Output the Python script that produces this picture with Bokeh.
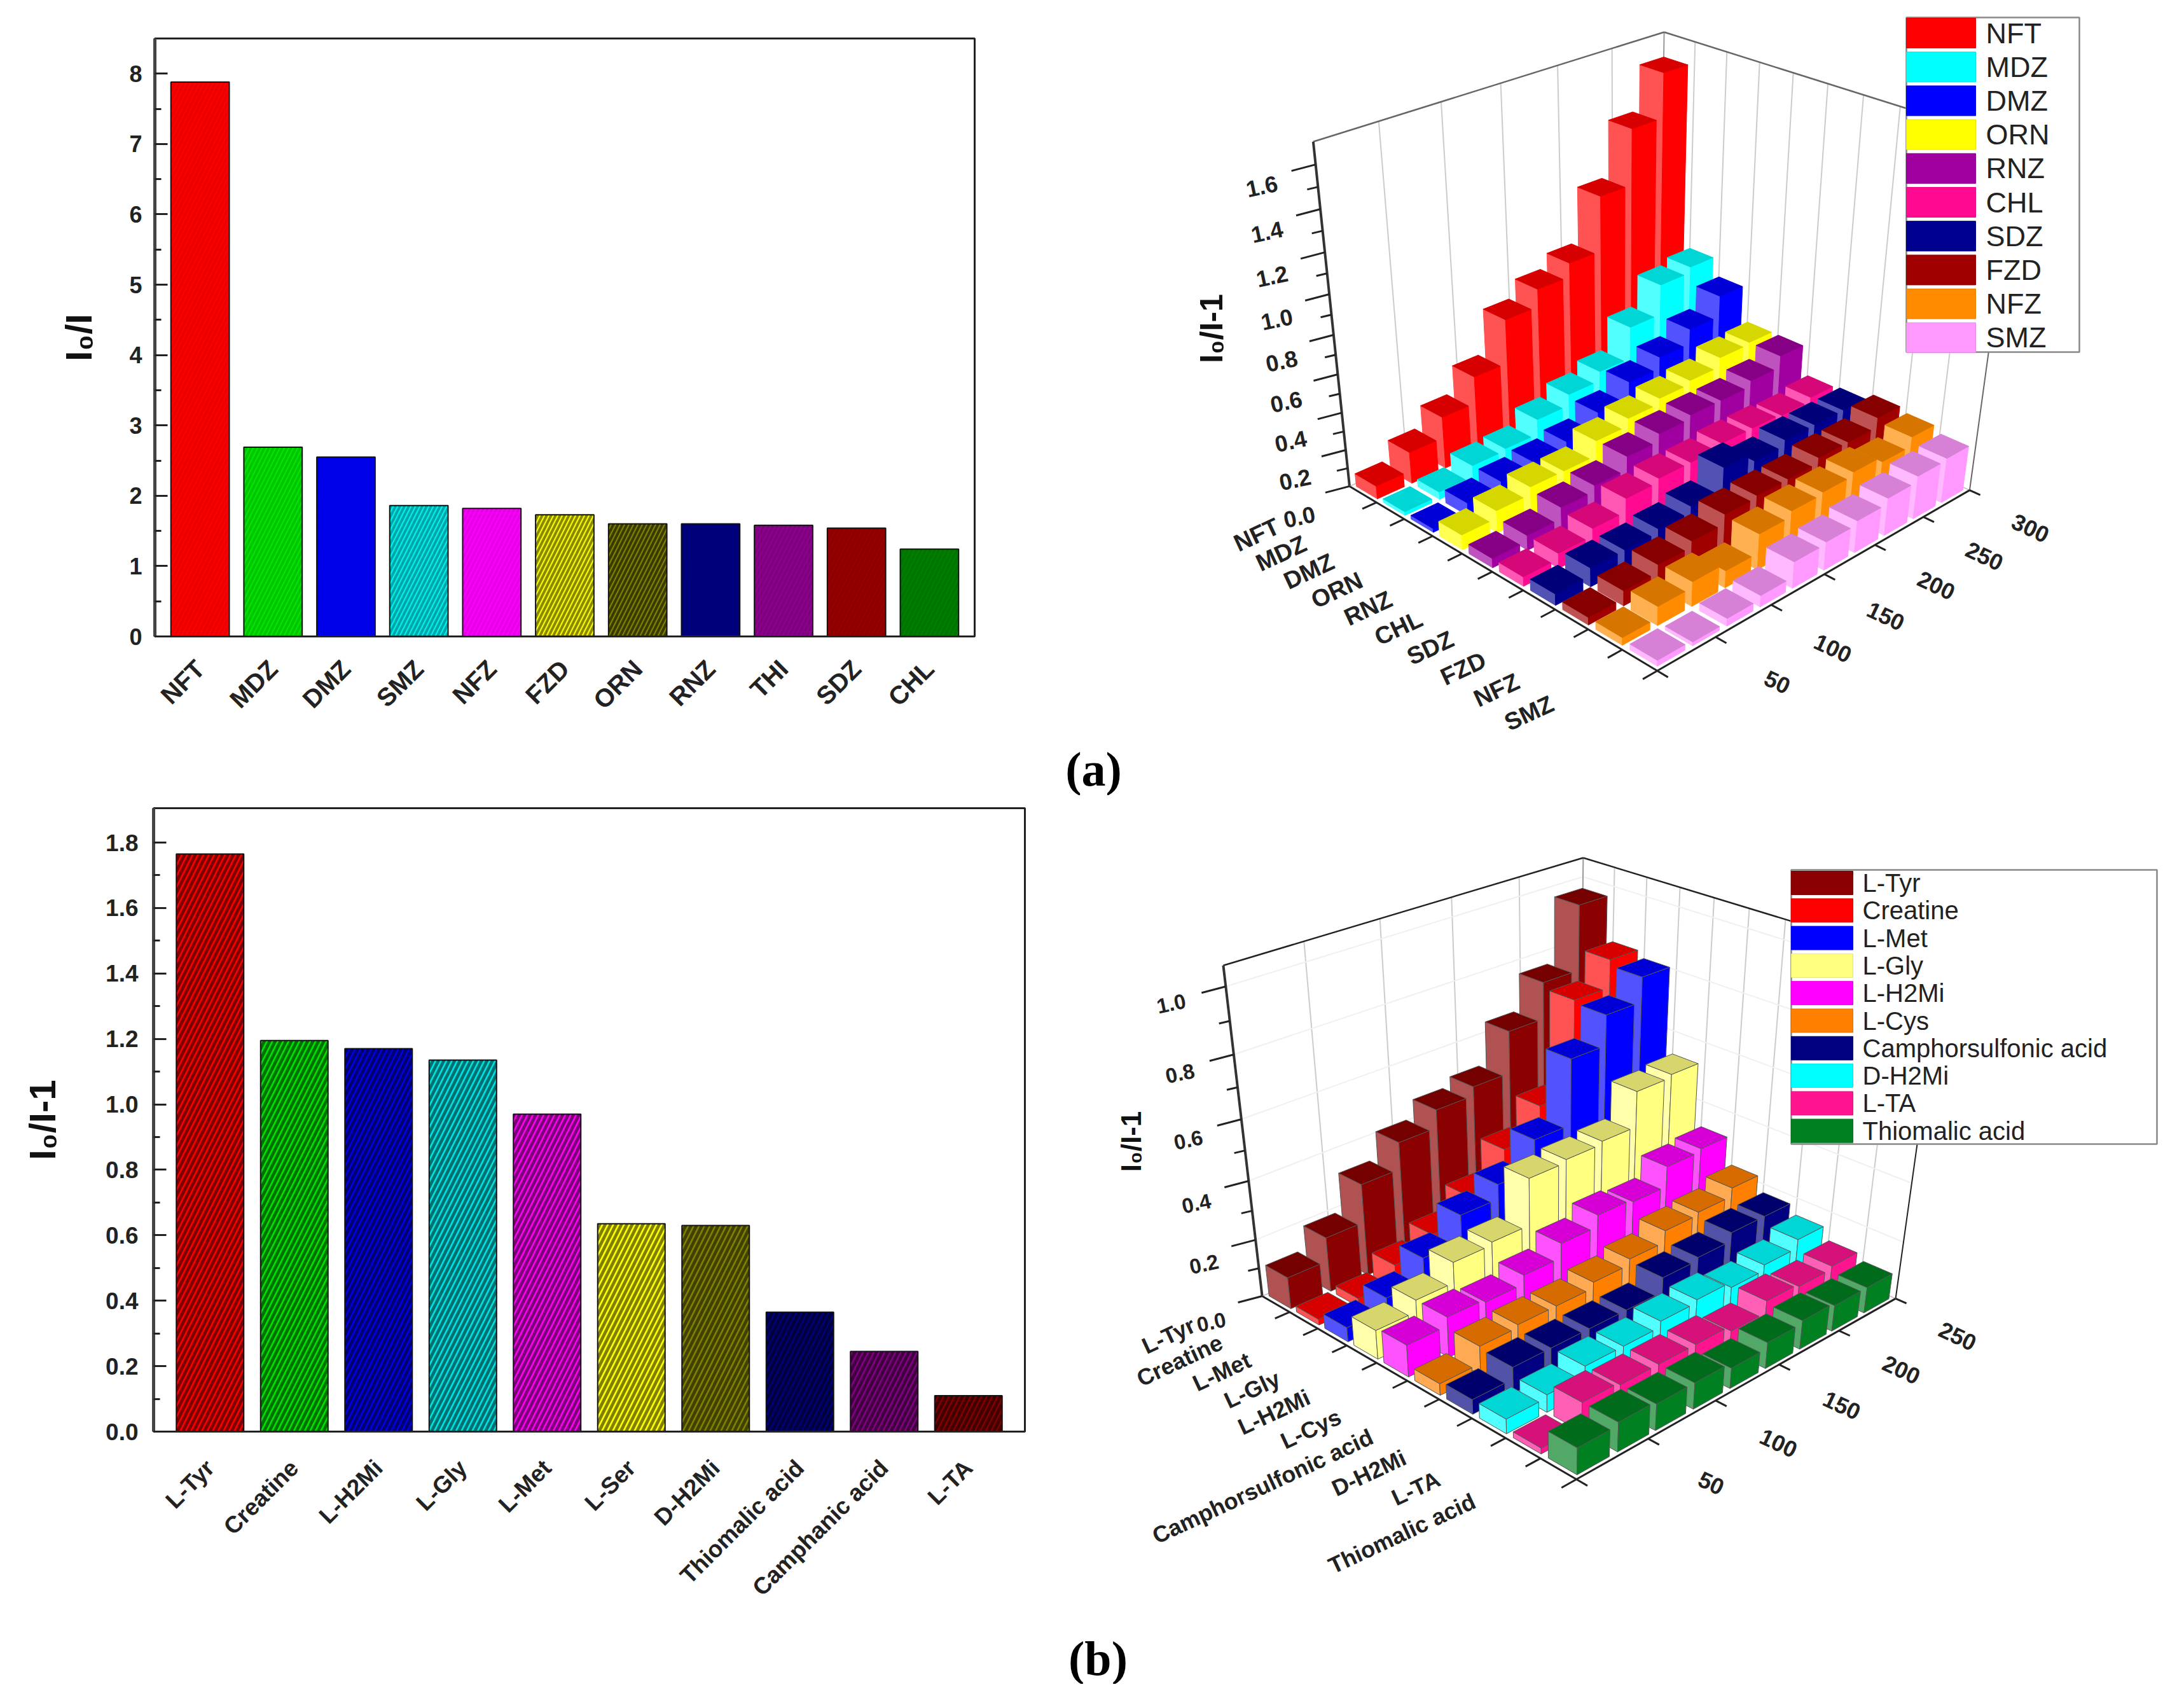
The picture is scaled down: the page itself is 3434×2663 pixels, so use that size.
import math
import numpy as np
from bokeh.plotting import figure
from bokeh.layouts import column, row
from bokeh.models import (ColumnDataSource, FactorRange, Range1d, FixedTicker, NumeralTickFormatter)
from bokeh.core.properties import value
from bokeh.embed import file_html
from bokeh.resources import INLINE

# ---- 2D bar data
cats_a = ["NFT", "MDZ", "DMZ", "SMZ", "NFZ", "FZD", "ORN", "RNZ", "THI", "SDZ", "CHL"]
vals_a = [7.88, 2.69, 2.55, 1.86, 1.82, 1.73, 1.60, 1.60, 1.58, 1.54, 1.24]
cols_a = ["#ff0000", "#00e600", "#0000f0", "#00eeee", "#ff00ff", "#f8f800", "#808000", "#000080", "#900090", "#990000", "#008000"]
hatch_a = [0.08, 0.15, 0.05, 0.3, 0.1, 0.45, 0.55, 0.05, 0.12, 0.08, 0.08]

cats_c = ["L-Tyr", "Creatine", "L-H2Mi", "L-Gly", "L-Met", "L-Ser", "D-H2Mi", "Thiomalic acid", "Camphanic acid", "L-TA"]
vals_c = [1.765, 1.195, 1.17, 1.135, 0.97, 0.635, 0.63, 0.365, 0.245, 0.11]
cols_c = ["#f80000", "#00e000", "#0000e0", "#00e0e0", "#f800f0", "#ffff00", "#808000", "#000078", "#800080", "#800000"]

# ---- 3D data, panel (a)
series_b = ["NFT", "MDZ", "DMZ", "ORN", "RNZ", "CHL", "SDZ", "FZD", "NFZ", "SMZ"]
colors_b = ["#ff0000", "#00ffff", "#0000ff", "#ffff00", "#a000a0", "#ff0a90", "#000090", "#a00000", "#ff8c00", "#ff99ff"]
conc_b = [15, 45, 75, 105, 135, 165, 195, 225, 255, 285]
nft = [0.07, 0.17, 0.28, 0.42, 0.65, 0.74, 0.81, 1.09, 1.37, 1.59]
mdz = [0.02, 0.04, 0.10, 0.11, 0.19, 0.25, 0.30, 0.47, 0.63, 0.66]
dmz = [0.02, 0.07, 0.10, 0.12, 0.15, 0.23, 0.32, 0.38, 0.46, 0.57]
orn = [0.08, 0.12, 0.16, 0.16, 0.24, 0.28, 0.31, 0.33, 0.38, 0.39]
rnz = [0.05, 0.08, 0.14, 0.17, 0.24, 0.28, 0.30, 0.30, 0.33, 0.39]
chl = [0.05, 0.08, 0.12, 0.19, 0.21, 0.21, 0.23, 0.23, 0.22, 0.24]
sdz = [0.06, 0.10, 0.10, 0.12, 0.15, 0.27, 0.22, 0.25, 0.25, 0.25]
fzd = [0.04, 0.08, 0.12, 0.15, 0.20, 0.21, 0.21, 0.24, 0.24, 0.29]
nfz = [0.04, 0.10, 0.13, 0.09, 0.19, 0.22, 0.23, 0.25, 0.22, 0.27]
smz = [0.03, 0.02, 0.04, 0.06, 0.14, 0.15, 0.17, 0.20, 0.23, 0.24]
table_b = [nft, mdz, dmz, orn, rnz, chl, sdz, fzd, nfz, smz]
vticks_b = [50, 100, 150, 200, 250, 300]
zmajor_b = [0.0, 0.2, 0.4, 0.6, 0.8, 1.0, 1.2, 1.4, 1.6]
zminor_b = [0.1, 0.3, 0.5, 0.7, 0.9, 1.1, 1.3, 1.5]

# ---- 3D data, panel (b)
series_d = ["L-Tyr", "Creatine", "L-Met", "L-Gly", "L-H2Mi", "L-Cys", "Camphorsulfonic acid", "D-H2Mi", "L-TA", "Thiomalic acid"]
colors_d = ["#8b0000", "#ff0000", "#0000ff", "#ffff80", "#ff00ff", "#ff8000", "#000080", "#00ffff", "#ff1490", "#008020"]
conc_d = [14, 42, 69, 97, 125, 153, 181, 208, 236]
ltyr = [0.11, 0.19, 0.32, 0.41, 0.47, 0.50, 0.64, 0.76, 0.97]
crea = [0.02, 0.03, 0.09, 0.14, 0.22, 0.33, 0.43, 0.74, 0.83]
lmet = [0.05, 0.09, 0.17, 0.26, 0.31, 0.41, 0.63, 0.73, 0.81]
lgly = [0.10, 0.14, 0.21, 0.22, 0.38, 0.39, 0.40, 0.52, 0.53]
lh2m = [0.11, 0.14, 0.13, 0.16, 0.21, 0.25, 0.24, 0.31, 0.32]
lcys = [0.04, 0.10, 0.11, 0.11, 0.13, 0.15, 0.19, 0.20, 0.23]
camp = [0.05, 0.09, 0.09, 0.09, 0.09, 0.14, 0.15, 0.18, 0.18]
dh2m = [0.05, 0.06, 0.09, 0.09, 0.11, 0.12, 0.10, 0.12, 0.15]
lta = [0.02, 0.10, 0.09, 0.09, 0.09, 0.07, 0.11, 0.10, 0.11]
thio = [0.09, 0.10, 0.09, 0.09, 0.07, 0.09, 0.10, 0.09, 0.09]
table_d = [ltyr, crea, lmet, lgly, lh2m, lcys, camp, dh2m, lta, thio]
vticks_d = [50, 100, 150, 200, 250]
zmajor_d = [0.0, 0.2, 0.4, 0.6, 0.8, 1.0]
zminor_d = [0.1, 0.3, 0.5, 0.7, 0.9]

FONT = value("Liberation Sans")


def rgb(c):
    return tuple(int(c[i:i + 2], 16) for i in (1, 3, 5))


def tohex(t):
    return "#%02x%02x%02x" % tuple(int(max(0, min(255, round(x)))) for x in t)


def light(c, f):
    return tohex([x + (255 - x) * f for x in rgb(c)])


def dark(c, f):
    return tohex([x * f for x in rgb(c)])


def camera(points):
    rows, rhs = [], []
    for (X, Y, Z), (x, y) in points:
        rows.append([X, Y, Z, 1, 0, 0, 0, 0, -x * X, -x * Y, -x * Z])
        rhs.append(x)
        rows.append([0, 0, 0, 0, X, Y, Z, 1, -y * X, -y * Y, -y * Z])
        rhs.append(y)
    sol = np.linalg.lstsq(np.array(rows, float), np.array(rhs, float), rcond=None)[0]
    return np.append(sol, 1.0).reshape(3, 4)


def bar_chart(w, h, left, top, right, bottom, cats, vals, cols, hatch, ymax, majors, minors, ylabel,
              tick_size, cat_size, standoff, tick_standoff, cat_standoff, hscale, hweight, fmt, pad):
    src = ColumnDataSource(dict(x=cats, top=vals, color=cols, h=hatch))
    p = figure(width=w, height=h, output_backend="svg", toolbar_location=None, frame_align=False,
               x_range=FactorRange(factors=cats, range_padding=pad, range_padding_units="absolute"),
               y_range=Range1d(0, ymax),
               min_border_left=left, min_border_top=top, min_border_right=right, min_border_bottom=bottom)
    p.vbar(x="x", top="top", bottom=0, width=0.8, source=src, fill_color="color", line_color="#111111", line_width=2,
           hatch_pattern="right_diagonal_line", hatch_color="black", hatch_alpha="h",
           hatch_scale=hscale, hatch_weight=hweight)
    p.grid.visible = False
    p.outline_line_color = "#222222"
    p.outline_line_width = 3
    ya = p.yaxis[0]
    ya.ticker = FixedTicker(ticks=majors, minor_ticks=minors)
    ya.formatter = NumeralTickFormatter(format=fmt)
    ya.major_tick_in = 20
    ya.major_tick_out = 0
    ya.minor_tick_in = 10
    ya.minor_tick_out = 0
    ya.major_tick_line_width = 3
    ya.minor_tick_line_width = 3
    ya.major_tick_line_color = "#222222"
    ya.minor_tick_line_color = "#222222"
    ya.axis_line_width = 5
    ya.axis_line_color = "#444444"
    ya.major_label_text_font = "Liberation Sans"
    ya.major_label_text_font_style = "bold"
    ya.major_label_text_font_size = tick_size
    ya.major_label_text_color = "#222222"
    ya.major_label_standoff = tick_standoff
    ya.axis_label = ylabel
    ya.axis_label_text_font = "Liberation Sans"
    ya.axis_label_text_font_style = "bold"
    ya.axis_label_text_font_size = "58px"
    ya.axis_label_text_color = "#111111"
    ya.axis_label_standoff = standoff
    xa = p.xaxis[0]
    xa.major_tick_line_color = None
    xa.minor_tick_line_color = None
    xa.axis_line_width = 3
    xa.axis_line_color = "#222222"
    xa.major_label_orientation = math.radians(45)
    xa.major_label_text_font = "Liberation Sans"
    xa.major_label_text_font_style = "bold"
    xa.major_label_text_font_size = cat_size
    xa.major_label_text_color = "#222222"
    xa.major_label_standoff = cat_standoff
    return p


def label(p, xs, ys, texts, size, angle=0.0, align="center", baseline="middle", style="bold", font=FONT, color="#222222"):
    p.text(x=list(xs), y=list(ys), text=list(texts), text_font=font, text_font_size=size, text_font_style=style,
           text_color=color, angle=angle, text_align=align, text_baseline=baseline)


def chart3d(y0, y1, corners, names, colors, table, conc, vmax, zmax, vticks, zmajor, zminor, width, edge, wallc,
            edgec, zsize, catsize, vsize, zoff, catoff, catk, title, titlepos, titlesize, leg, faint):
    p = figure(width=3426 - 1670, height=y1 - y0, frame_align=False,
               output_backend="svg", toolbar_location=None,
               x_range=Range1d(1670, 3426), y_range=Range1d(y1, y0),
               min_border=0, min_border_left=0, min_border_right=0, min_border_top=0, min_border_bottom=0)
    p.axis.visible = False
    p.outline_line_color = None
    p.grid.visible = False
    P = camera(corners)

    def pr(u, v, z):
        q = P @ np.array([u, v, z / zmax, 1.0])
        return q[0] / q[2], q[1] / q[2]

    n = len(names)
    ub = [i / n for i in range(n + 1)]

    def seg(a, b, color, lw):
        p.line([a[0], b[0]], [a[1], b[1]], line_color=color, line_width=lw)

    # walls
    for vt in vticks[:-1]:
        seg(pr(0, vt / vmax, 0), pr(0, vt / vmax, zmax), wallc, 2)
    for u in ub[1:-1]:
        seg(pr(u, 1, 0), pr(u, 1, zmax), wallc, 2)
    if faint:
        for z in zmajor[1:]:
            seg(pr(0, 0, z), pr(0, 1, z), "#f0f0f0", 2)
            seg(pr(0, 1, z), pr(1, 1, z), "#f0f0f0", 2)
    seg(pr(0, 1, 0), pr(0, 1, zmax), "#999999", 2)
    seg(pr(0, 0, zmax), pr(0, 1, zmax), edgec, 2.5)
    seg(pr(0, 1, zmax), pr(1, 1, zmax), edgec, 2.5)
    seg(pr(1, 1, 0), pr(1, 1, zmax), edgec, 2)
    seg(pr(0, 0, 0), pr(0, 0, zmax), "#333333", 4)
    seg(pr(0, 0, 0), pr(0, 1, 0), "#bbbbbb", 1.5)
    seg(pr(0, 1, 0), pr(1, 1, 0), "#bbbbbb", 1.5)
    seg(pr(0, 0, 0), pr(1, 0, 0), "#222222", 3)
    seg(pr(1, 0, 0), pr(1, 1, 0), "#222222", 3)
    # axis ticks
    for u in ub[1:]:
        seg(pr(u, 0, 0), pr(u, -0.04, 0), "#222222", 3)
    for vt in [0] + vticks:
        seg(pr(1, vt / vmax, 0), pr(1.03, vt / vmax, 0), "#222222", 3)
    for z in zmajor:
        a = pr(0, 0, z)
        seg(a, (a[0] - 38, a[1] + 10), "#222222", 3)
    for z in zminor:
        a = pr(0, 0, z)
        seg(a, (a[0] - 17, a[1] + 4), "#222222", 3)

    # bars, far to near
    du = width / n / 2
    dv = width / len(conc) / 2
    for i, name in enumerate(names):
        c = colors[i]
        uc = (i + 0.5) / n
        xs, ys, fills, lines = [], [], [], []
        for j in range(len(conc) - 1, -1, -1):
            z = table[i][j]
            vc = conc[j] / vmax
            um, up, vm, vp = uc - du, uc + du, vc - dv, vc + dv
            faces = [
                ([(um, vm, 0), (up, vm, 0), (up, vm, z), (um, vm, z)], light(c, 0.32)),
                ([(up, vm, 0), (up, vp, 0), (up, vp, z), (up, vm, z)], c),
                ([(um, vm, z), (up, vm, z), (up, vp, z), (um, vp, z)], dark(c, 0.84)),
            ]
            for pts, col in faces:
                q = [pr(*t) for t in pts]
                xs.append([a for a, _ in q])
                ys.append([b for _, b in q])
                fills.append(col)
                lines.append(edge if edge else col)
        p.patches(xs="xs", ys="ys", fill_color="fill", line_color="line", line_width=1,
                  source=ColumnDataSource(dict(xs=xs, ys=ys, fill=fills, line=lines)))

    # labels
    zl = [pr(0, 0, z) for z in zmajor]
    label(p, [a + zoff[0] + 6 * (1 - z / zmax) for (a, _), z in zip(zl, zmajor)],
          [b + zoff[1] + 15 * (1 - z / zmax) for (_, b), z in zip(zl, zmajor)],
          ["%.1f" % z for z in zmajor], zsize, angle=math.radians(12))
    cl = [pr((i + 0.5) / n, catk, 0) for i in range(n)]
    label(p, [a for a, _ in cl], [b + catoff for _, b in cl], names, catsize, angle=math.radians(25), align="right")
    vl = [pr(1.16, vt / vmax, 0) for vt in vticks]
    label(p, [a + 5 for a, _ in vl], [b + 18 for _, b in vl], [str(vt) for vt in vticks], vsize,
          angle=math.radians(-25))
    label(p, [titlepos[0]], [titlepos[1]], [title], titlesize, angle=math.pi / 2, color="#111111")

    # key
    p.quad(left=[leg["x0"]], right=[leg["x1"]], top=[leg["y0"]], bottom=[leg["y1"]], fill_color="white",
           line_color="#888888", line_width=2.5)
    tops = [leg["first"] + k * leg["pitch"] for k in range(n)]
    p.quad(left=[leg["x0"]] * n, right=[leg["x0"] + leg["sw"]] * n, top=tops, bottom=[t + leg["sh"] for t in tops],
           fill_color=colors, line_color=[dark(c, 0.9) for c in colors], line_width=1)
    label(p, [leg["tx"]] * n, [t + leg["sh"] / 2 for t in tops], names, leg["font"], align="left", style="normal")
    return p


fig_a = bar_chart(1662, 1250, 243, 60, 130, 250, cats_a, vals_a, cols_a, hatch_a, 8.5,
                  [0, 1, 2, 3, 4, 5, 6, 7, 8], [0.5, 1.5, 2.5, 3.5, 4.5, 5.5, 6.5, 7.5],
                  "I\u2080/I", "36px", "40px", 44, 20, 38, 14, 4, "0", 0.12)
fig_c = bar_chart(1662, 1397, 241, 20, 51, 397, cats_c, vals_c, cols_c, [0.5] * len(cats_c), 1.905,
                  [0, 0.2, 0.4, 0.6, 0.8, 1.0, 1.2, 1.4, 1.6, 1.8],
                  [0.1, 0.3, 0.5, 0.7, 0.9, 1.1, 1.3, 1.5, 1.7],
                  "I\u2080/I-1", "37px", "37px", 64, 24, 45, 17, 5, "0.0", 0.17)

corners_b = [((0, 0, 0), (2130, 773)), ((1, 0, 0), (2612, 1062)), ((1, 1, 0), (3105, 777)),
             ((0, 0, 1), (2073, 229)), ((0, 1, 1), (2623, 58)), ((1, 1, 1), (3180, 234))]
corners_d = [((0, 0, 0), (1993, 2047)), ((1, 0, 0), (2484, 2333)), ((1, 1, 0), (2989, 2047)),
             ((0, 0, 1), (1932, 1523)), ((0, 1, 1), (2495, 1356)), ((1, 1, 1), (3062, 1530))]

fig_b = chart3d(8, 1258, corners_b, series_b, colors_b, table_b, conc_b, 300.0, 1.7, vticks_b, zmajor_b, zminor_b,
                0.78, None, "#cccccc", "#666666", "36px", "38px", "36px", (-85, 33), -12, -0.235,
                "I\u2080/I-1", (1912, 524), "50px",
                dict(x0=3005, x1=3277, y0=35, y1=561, first=36, pitch=53.2, sw=109, sh=47, tx=3130, font="45px"),
                False)
fig_d = chart3d(1258, 2655, corners_d, series_d, colors_d, table_d, conc_d, 250.0, 1.06, vticks_d, zmajor_d, zminor_d,
                0.8, "#555555", "#cccccc", "#222222", "33px", "36px", "36px", (-86, 26), -25, -0.22,
                "I\u2080/I-1", (1786, 1802), "44px",
                dict(x0=2824, x1=3399, y0=1375, y1=1806, first=1377, pitch=43.3, sw=97, sh=37, tx=2936, font="40px"),
                True)

serif = value("Liberation Serif")
label(fig_b, [1727], [1216], ["(a)"], "76px", font=serif, color="black")
label(fig_d, [1734], [2614], ["(b)"], "76px", font=serif, color="black")

page = column(row(fig_a, fig_b, spacing=0), row(fig_c, fig_d, spacing=0), spacing=0)
open("out.html", "w").write(file_html(page, INLINE))
